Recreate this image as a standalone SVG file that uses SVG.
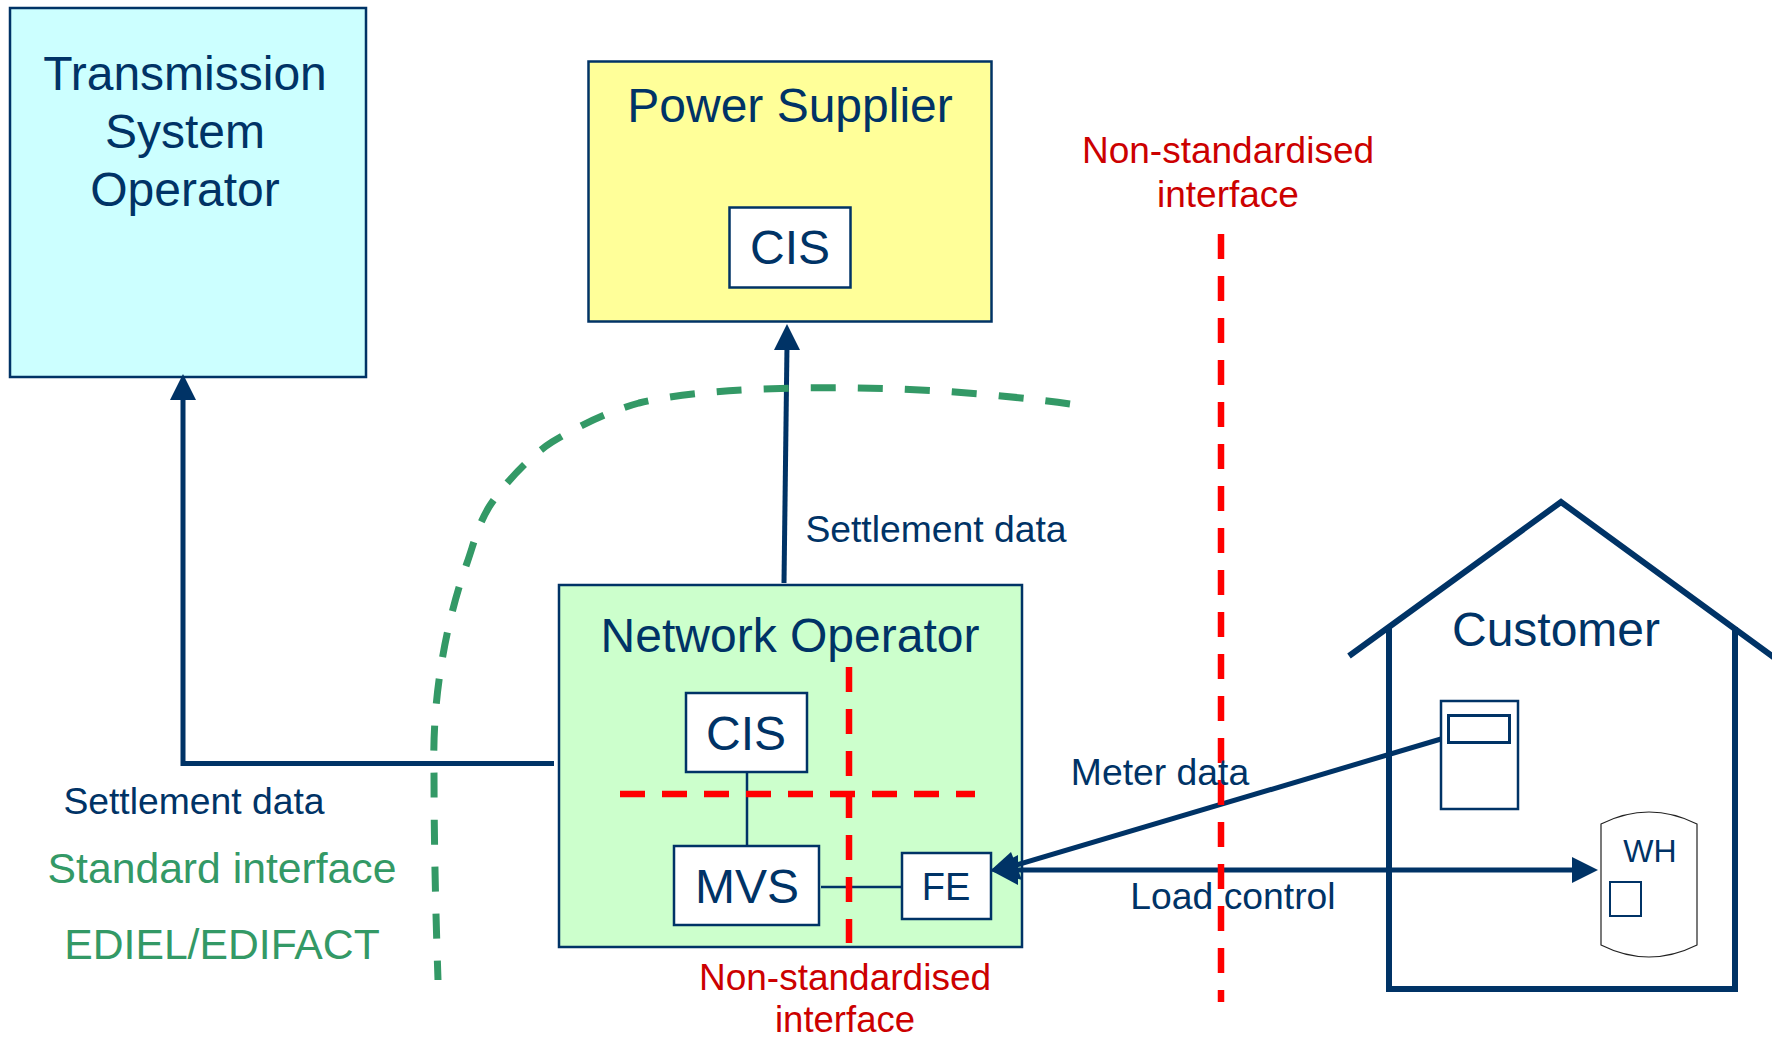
<svg xmlns="http://www.w3.org/2000/svg" width="1772" height="1039" viewBox="0 0 1772 1039">
<style>
text{font-family:"Liberation Sans",Arial,sans-serif;text-anchor:middle;fill:#003366}
.big{font-size:48px}.mid{font-size:37.300px}.red{fill:#cc0000;font-size:37px}.grn{fill:#339966;font-size:42.700px}
.box{stroke:#003366;stroke-width:2.5}
.w{fill:#fff}
.line{fill:none;stroke:#003366;stroke-width:5}
.thin{fill:none;stroke:#003366;stroke-width:2.5}
.house{fill:none;stroke:#003366;stroke-width:6}
.rd{fill:none;stroke:#ff0000;stroke-width:6.500;stroke-dasharray:25 17}
.gd{fill:none;stroke:#339966;stroke-width:7;stroke-dasharray:25 22}
</style>
<rect width="1772" height="1039" fill="#fff"/>
<g id="tso"><rect class="box" x="10" y="8" width="356" height="369" fill="#ccffff"/>
<text class="big" x="185" y="90">Transmission</text><text class="big" x="185" y="148">System</text><text class="big" x="185" y="206">Operator</text></g>
<g id="supplier"><rect class="box" x="588.500" y="61.500" width="403" height="260" fill="#ffff99"/>
<text class="big" x="790" y="122">Power Supplier</text></g>
<g id="supplier-cis"><rect class="box w" x="729.500" y="207.500" width="121" height="80"/><text class="big" x="790" y="264">CIS</text></g>
<g id="network"><rect class="box" x="559" y="585" width="463" height="362" fill="#ccffcc"/>
<text class="big" x="790" y="652">Network Operator</text></g>
<g id="connectors">
<path class="thin" d="M747 772V846M821 887H902"/>
<path class="rd" d="M849 667V943"/>
<path class="rd" d="M620 794H975"/>
<path class="line" d="M784 583L787 345"/>
<path d="M787 324L774 350H800Z" fill="#003366"/>
<path class="line" d="M554 763.500H183V398"/>
<path d="M183 374L170 400H196Z" fill="#003366"/>
<path class="line" d="M1441 739L1010 867"/>
<path d="M990 871L1011 852L1022 880Z" fill="#003366"/>
<path class="line" d="M1014 870H1576"/>
<path d="M1598 870L1572 857V883Z" fill="#003366"/>
<path d="M990 870L1018 855V885Z" fill="#003366"/>
<path class="rd" d="M1221 234V1002"/>
<path class="gd" d="M1070 404C1000 394 900 386 800 388C740 389 680 393 639 403C610 411 580 425 552 442C530 456 503 485 489 507C478 525 474 543 467 563C445 625 432 700 434 770C434 850 436 920 438 980"/>
</g>
<g id="network-cis"><rect class="box w" x="686" y="693" width="121" height="79"/><text class="big" x="746" y="750">CIS</text></g>
<g id="mvs"><rect class="box w" x="674" y="846" width="145" height="79"/><text class="big" x="747" y="903">MVS</text></g>
<g id="fe"><rect class="box w" x="902" y="853" width="89" height="66"/><text class="mid" x="946" y="900" style="font-size:38px">FE</text></g>
<g id="customer"><path class="house" d="M1349 656L1561 502L1776 659M1389 627V989H1735V627"/>
<text class="big" x="1556" y="646">Customer</text></g>
<g id="meter"><rect class="box w" x="1441" y="701" width="77" height="108"/><rect x="1448.500" y="715.500" width="61" height="27" fill="none" stroke="#003366" stroke-width="3"/></g>
<g id="wh"><path d="M1601 824Q1649 800 1697 824V945Q1649 969 1601 945Z" fill="#fff" stroke="#222" stroke-width="1.200"/>
<text x="1650" y="862" style="font-size:32px">WH</text><rect class="box w" x="1610" y="882" width="31" height="34" style="stroke-width:2"/></g>
<g id="labels">
<text class="mid" x="936" y="542">Settlement data</text>
<text class="mid" x="194" y="814">Settlement data</text>
<text class="grn" x="222" y="883">Standard interface</text>
<text class="grn" x="222" y="959">EDIEL/EDIFACT</text>
<text class="mid" x="1160" y="785">Meter data</text>
<text class="mid" x="1233" y="909">Load  control</text>
<text class="red" x="1228" y="163">Non-standardised</text><text class="red" x="1228" y="207">interface</text>
<text class="red" x="845" y="990">Non-standardised</text><text class="red" x="845" y="1032" style="font-size:36.500px">interface</text>
</g>
</svg>
